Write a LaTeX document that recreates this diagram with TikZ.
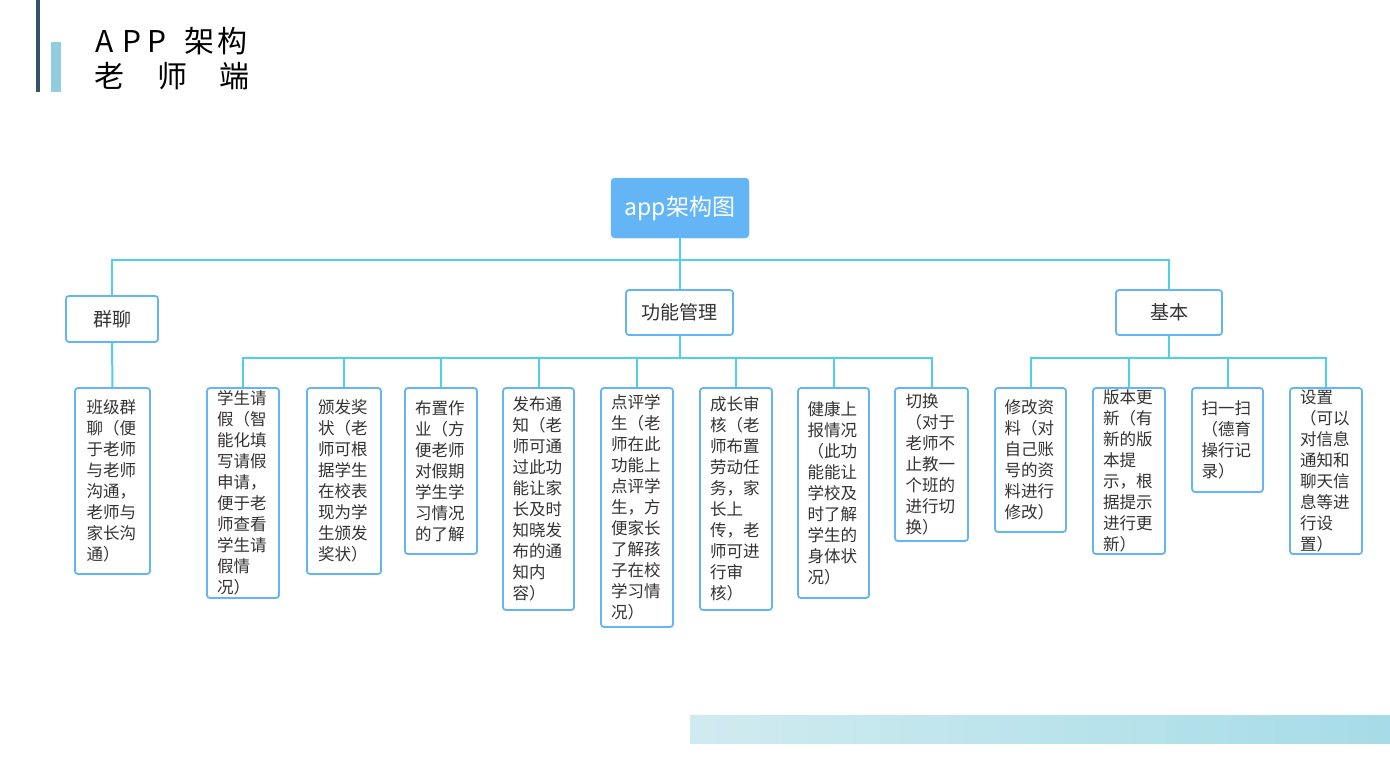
\documentclass[tikz,border=0pt]{standalone}
\usepackage{fontspec}
\setmainfont{Noto Sans CJK SC}
\usetikzlibrary{shadings}
\definecolor{boxblue}{HTML}{64B5F6}
\definecolor{conncol}{HTML}{4DD0E8}
\definecolor{txtgray}{HTML}{333333}
\definecolor{darkbar}{HTML}{34526B}
\definecolor{lightbar}{HTML}{92CDDF}
\definecolor{gradL}{HTML}{D0EBF0}
\definecolor{gradR}{HTML}{A6DCE7}
\tikzset{
  x=1pt,y=-1pt,
  conn/.style={draw=conncol,line width=2pt},
  rootbox/.style={fill=boxblue,draw=boxblue,rounded corners=4pt,text=white,
    font=\fontsize{23}{28}\selectfont,inner sep=0pt},
  midbox/.style={draw=boxblue,fill=white,line width=1.8pt,rounded corners=3pt,
    text=txtgray,font=\fontsize{19}{24}\selectfont,inner sep=0pt},
  leafbox/.style={draw=boxblue,fill=white,line width=1.8pt,rounded corners=3pt,
    text=txtgray,font=\fontsize{16.5}{21}\selectfont,inner xsep=8pt,inner ysep=0pt,
    text width=52pt,align=left},
  titletxt/.style={anchor=base west,inner sep=0pt,text=black,font=\fontsize{30}{34}\selectfont}
}
\begin{document}
\begin{tikzpicture}
\useasboundingbox (0,0) rectangle (1390,780);
\fill[white] (0,0) rectangle (1390,780);
% decorations
\fill[darkbar] (36,0) rectangle (40,92);
\fill[lightbar] (51,42) rectangle (61,92);
\shade[left color=gradL,right color=gradR] (690,715) rectangle (1390,743);
% title
\node[titletxt] (title1) at (95,52) {\makebox[27pt][l]{A}\makebox[25pt][l]{P}\makebox[37pt][l]{P}\makebox[33pt][l]{架}构};
\node[titletxt] (title2) at (94,87) {\makebox[63pt][l]{老}\makebox[62pt][l]{师}端};
% root and level 1
\node[rootbox,minimum width=138pt,minimum height=60pt] (root) at (680,208) {app架构图};
\node[midbox,minimum width=92pt,minimum height=46pt] (g1) at (112,319) {群聊};
\node[midbox,minimum width=107pt,minimum height=45pt] (g2) at (679.5,312.5) {功能管理};
\node[midbox,minimum width=106pt,minimum height=45pt] (g3) at (1169,312.5) {基本};
% leaves
\node[leafbox,minimum width=75pt,minimum height=186pt] (a1) at (112.5,481) {班级群\\聊（便\\于老师\\与老师\\沟通，\\老师与\\家长沟\\通）};
\node[leafbox,minimum width=72pt,minimum height=210pt] (b1) at (243,493) {学生请\\假（智\\能化填\\写请假\\申请，\\便于老\\师查看\\学生请\\假情\\况）};
\node[leafbox,minimum width=74pt,minimum height=186pt] (b2) at (344,481) {颁发奖\\状（老\\师可根\\据学生\\在校表\\现为学\\生颁发\\奖状）};
\node[leafbox,minimum width=72pt,minimum height=166pt] (b3) at (441,471) {布置作\\业（方\\便老师\\对假期\\学生学\\习情况\\的了解};
\node[leafbox,minimum width=71pt,minimum height=222pt] (b4) at (538.5,499) {发布通\\知（老\\师可通\\过此功\\能让家\\长及时\\知晓发\\布的通\\知内\\容）};
\node[leafbox,minimum width=72pt,minimum height=239pt] (b5) at (637,507.5) {点评学\\生（老\\师在此\\功能上\\点评学\\生，方\\便家长\\了解孩\\子在校\\学习情\\况）};
\node[leafbox,minimum width=72pt,minimum height=222pt] (b6) at (736,499) {成长审\\核（老\\师布置\\劳动任\\务，家\\长上\\传，老\\师可进\\行审\\核）};
\node[leafbox,minimum width=71pt,minimum height=210pt] (b7) at (833.5,493) {健康上\\报情况\\（此功\\能能让\\学校及\\时了解\\学生的\\身体状\\况）};
\node[leafbox,minimum width=73pt,minimum height=153pt] (b8) at (931.5,464.5) {切换\\（对于\\老师不\\止教一\\个班的\\进行切\\换）};
\node[leafbox,minimum width=71pt,minimum height=144pt] (c1) at (1030.5,460) {修改资\\料（对\\自己账\\号的资\\料进行\\修改）};
\node[leafbox,minimum width=72pt,minimum height=166pt] (c2) at (1129,471) {版本更\\新（有\\新的版\\本提\\示，根\\据提示\\进行更\\新）};
\node[leafbox,minimum width=71pt,minimum height=104pt] (c3) at (1227.5,440) {扫一扫\\（德育\\操行记\\录）};
\node[leafbox,minimum width=72pt,minimum height=166pt] (c4) at (1326,471) {设置\\（可以\\对信息\\通知和\\聊天信\\息等进\\行设\\置）};
% buses
\coordinate (bus1) at (0,260);
\coordinate (bus2) at (0,358);
% connectors (drawn behind boxes)
\begin{scope}[on background layer/.style={}]
\end{scope}
\draw[conn] (root.south) -- (root.south |- bus1);
\draw[conn] (g1.north) -- (g1.north |- bus1) -- (g3.north |- bus1) -- (g3.north);
\draw[conn] (g2.north) -- (g2.north |- bus1);
\draw[conn] (g1.south) -- (a1.north);
\draw[conn] (g2.south) -- (g2.south |- bus2);
\draw[conn] (b1.north) -- (b1.north |- bus2) -- (b8.north |- bus2) -- (b8.north);
\foreach \n in {b2,b3,b4,b5,b6,b7} \draw[conn] (\n.north) -- (\n.north |- bus2);
\draw[conn] (g3.south) -- (g3.south |- bus2);
\draw[conn] (c1.north) -- (c1.north |- bus2) -- (c4.north |- bus2) -- (c4.north);
\foreach \n in {c2,c3} \draw[conn] (\n.north) -- (\n.north |- bus2);
\end{tikzpicture}
\end{document}
